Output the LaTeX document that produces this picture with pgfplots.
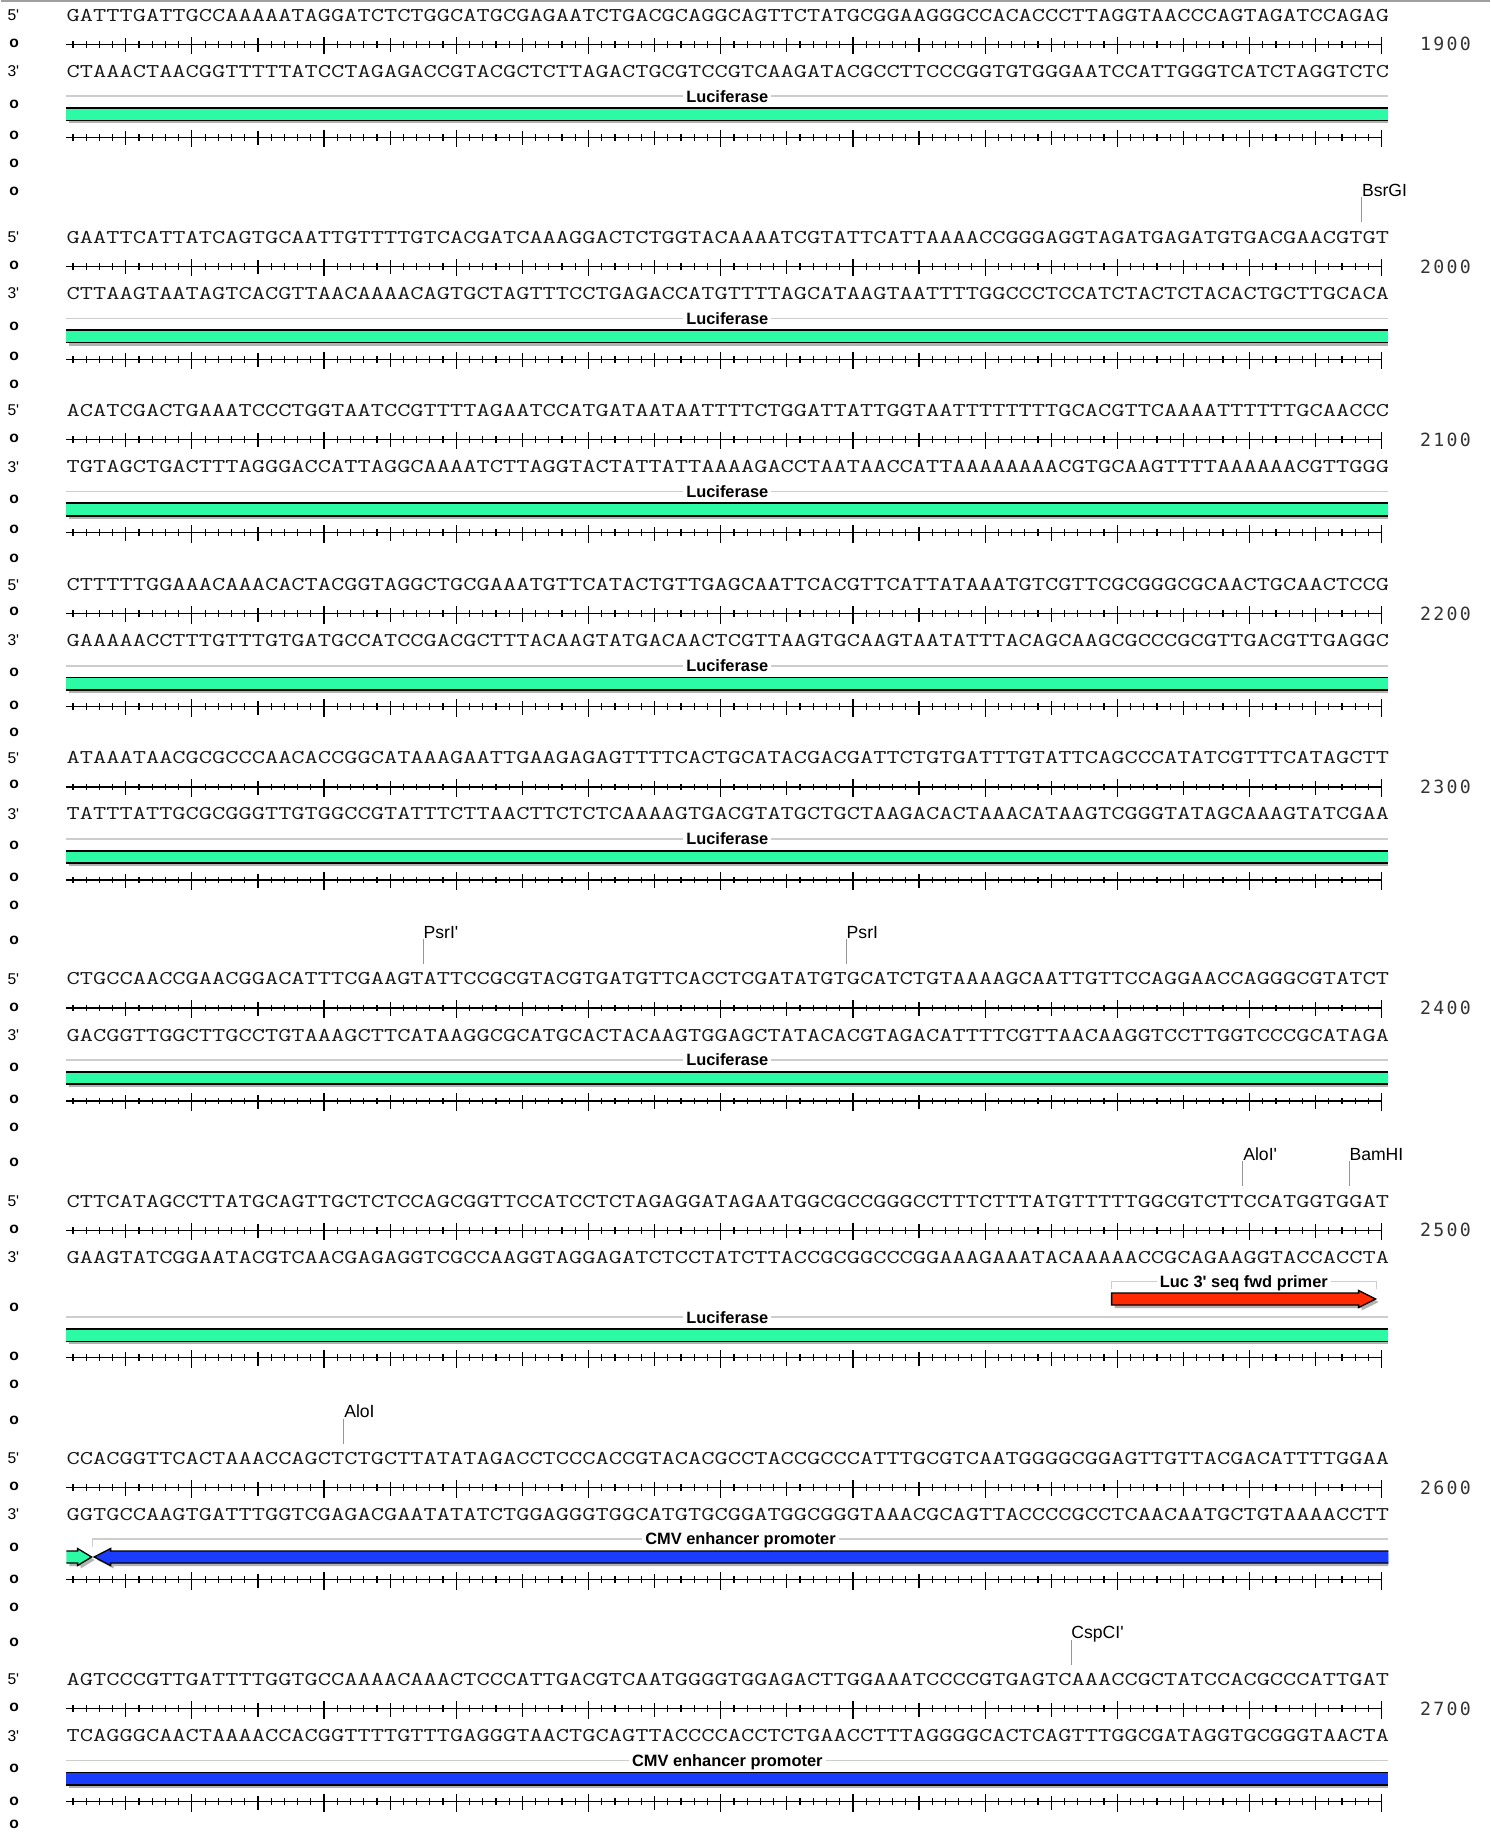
\documentclass[border=0pt]{standalone}
\usepackage{pgfplots}
\pgfplotsset{compat=1.18}
\usepackage{pgfplotstable}
\usepackage{graphicx}
\usepackage{fontspec}
\setmainfont{Liberation Sans}[Ligatures=TeXOff]
\newfontfamily\numf[LetterSpace=13]{DejaVu Sans Mono}

\definecolor{lucgreen}{RGB}{44,250,164}
\definecolor{cmvblue}{RGB}{26,60,255}
\definecolor{primred}{RGB}{255,42,0}
\definecolor{shade}{RGB}{178,178,178}
\definecolor{labline}{RGB}{205,205,205}
\definecolor{cutline}{RGB}{150,150,150}

\newcommand\seqfont{\ttfamily\fontsize{12.86}{14}\selectfont\color{black!90}}
\newcommand\labfont{\fontsize{8.8}{10}\selectfont}
\newcommand\featfont{\bfseries\fontsize{8.2}{10}\selectfont}
\newcommand\sidefont{\fontsize{7.8}{9}\selectfont}
\newcommand\posfont{\numf\fontsize{9.1}{10}\selectfont\color{black!80}}

% ruler ticks, by base number within a row of 100 (second column unused)
\pgfplotstableread[row sep=\\]{b z\\1 0\\2 0\\3 0\\4 0\\6 0\\7 0\\8 0\\9 0\\11 0\\12 0\\13 0\\14 0\\16 0\\17 0\\18 0\\19 0\\21 0\\22 0\\23 0\\24 0\\26 0\\27 0\\28 0\\29 0\\31 0\\32 0\\33 0\\34 0\\36 0\\37 0\\38 0\\39 0\\41 0\\42 0\\43 0\\44 0\\46 0\\47 0\\48 0\\49 0\\51 0\\52 0\\53 0\\54 0\\56 0\\57 0\\58 0\\59 0\\61 0\\62 0\\63 0\\64 0\\66 0\\67 0\\68 0\\69 0\\71 0\\72 0\\73 0\\74 0\\76 0\\77 0\\78 0\\79 0\\81 0\\82 0\\83 0\\84 0\\86 0\\87 0\\88 0\\89 0\\91 0\\92 0\\93 0\\94 0\\96 0\\97 0\\98 0\\99 0\\}\minorT
\pgfplotstableread[row sep=\\]{b z\\5 0\\15 0\\25 0\\35 0\\45 0\\55 0\\65 0\\75 0\\85 0\\95 0\\}\fiveT
\pgfplotstableread[row sep=\\]{b z\\10 0\\20 0\\30 0\\40 0\\50 0\\60 0\\70 0\\80 0\\90 0\\100 0\\}\tenT

% feature bar outline (pixel offsets from the bar centre)
\pgfplotstableread{
x dy
65.7 -6.25
1387.7 -6.25
1387.7 6.25
65.7 6.25
}\barT
\pgfplotstableread{
x dy
68.7 -3.25
1387.7 -3.25
1387.7 9.25
68.7 9.25
}\shadowT
\pgfplotstableread{
x dy
65.7 0
1387.7 0
}\edgeT

\newcommand\featbar[2]{%
  \addplot[fill=shade, draw=none] table[x=x, y expr=#1+\thisrow{dy}] \shadowT;
  \addplot[fill=#2, draw=none] table[x=x, y expr=#1+\thisrow{dy}] \barT;
  \addplot[black, line width=0.85pt] table[x=x, y expr=#1-6.25] \edgeT;
  \addplot[black, line width=0.85pt] table[x=x, y expr=#1+6.25] \edgeT;
}
\newcommand\ruler[1]{%
  \addplot[black, line width=0.6pt] coordinates {(65.7,#1) (1381.1,#1)};
  \addplot[black, only marks, mark=|, mark size=1.7pt, mark options={line width=0.6pt}]
    table[x expr=65.7+13.22*(\thisrow{b}-0.5), y expr=#1] \minorT;
  \addplot[black, only marks, mark=|, mark size=3.5pt, mark options={line width=0.6pt}]
    table[x expr=65.7+13.22*(\thisrow{b}-0.5), y expr=#1+1] \fiveT;
  \addplot[black, only marks, mark=|, mark size=4.4pt, mark options={line width=0.6pt}]
    table[x expr=65.7+13.22*(\thisrow{b}-0.5), y expr=#1+1.2] \tenT;
}
% each strand is 100 bases, stretched to exactly 100 base cells (661.1pt)
\newcommand\seqrow[3]{%
  \node[anchor=west, inner sep=0pt] at (axis cs:65.7,#1) {\resizebox{661.1pt}{6.1pt}{\seqfont #2}};
  \node[anchor=west, inner sep=0pt] at (axis cs:65.7,#1+56.1) {\resizebox{661.1pt}{6.1pt}{\seqfont #3}};
}
\newcommand\cut[3]{% x, sequence y, name
  \addplot[cutline, line width=0.5pt] coordinates {(#1,#2-40) (#1,#2-15)};
  \node[anchor=base west, inner sep=0pt] at (axis cs:#1,#2-41) {\labfont #3};
}
\newcommand\featlabel[3]{% x centre, y, text
  \node[anchor=base, fill=white, inner xsep=1.5pt, inner ysep=0pt] at (axis cs:#1,#2+5.9) {\featfont #3};
}

\begin{document}
\begin{tikzpicture}
\begin{axis}[scale only axis, width=744.5pt, height=917pt,
    xmin=0, xmax=1489, ymin=0, ymax=1834, y dir=reverse,
    hide axis, clip=false]

\addplot[draw=none] coordinates {(0,0) (1489,1834)};
\addplot[gray!75, line width=0.6pt] coordinates {(0,1) (1489,1)};

% left margin labels
\pgfplotsinvokeforeach{15.2,237.4,410.5,584.8,757.9,979.0,1201.2,1458.5,1679.6}{
  \node[anchor=west, inner sep=0pt] at (axis cs:6.5,#1) {\sidefont 5'};}
\pgfplotsinvokeforeach{71.3,293.6,466.7,639.8,814.0,1035.1,1257.3,1514.6,1735.7}{
  \node[anchor=west, inner sep=0pt] at (axis cs:6.5,#1) {\sidefont 3'};}
\pgfplotsinvokeforeach{43.3,104.1,135.7,163.7,191.8,265.5,326.3,356.7,384.8,438.6,499.4,529.8,557.9,611.7,672.5,705.3,732.2,784.8,845.6,877.2,905.3,940.4,1007.0,1067.8,1099.4,1127.5,1162.6,1229.2,1307.6,1356.7,1384.8,1419.9,1486.5,1547.3,1578.9,1607.0,1642.1,1707.6,1768.4,1801.2,1824.5}{
  \node[anchor=west, inner sep=0pt] at (axis cs:8.5,#1) {\sidefont\bfseries o};}

% rulers
\pgfplotsinvokeforeach{44.2,137.2,266.4,359.4,439.5,532.5,613.8,706.8,786.9,879.9,1008.0,1101.0,1230.2,1357.5,1487.5,1579.5,1708.6,1801.6}{\ruler{#1}}

% position numbers
\node[anchor=west, inner sep=0pt] at (axis cs:1419,44.2) {\posfont 1900};
\node[anchor=west, inner sep=0pt] at (axis cs:1419,266.4) {\posfont 2000};
\node[anchor=west, inner sep=0pt] at (axis cs:1419,439.5) {\posfont 2100};
\node[anchor=west, inner sep=0pt] at (axis cs:1419,613.8) {\posfont 2200};
\node[anchor=west, inner sep=0pt] at (axis cs:1419,786.9) {\posfont 2300};
\node[anchor=west, inner sep=0pt] at (axis cs:1419,1008.0) {\posfont 2400};
\node[anchor=west, inner sep=0pt] at (axis cs:1419,1230.2) {\posfont 2500};
\node[anchor=west, inner sep=0pt] at (axis cs:1419,1487.5) {\posfont 2600};
\node[anchor=west, inner sep=0pt] at (axis cs:1419,1708.6) {\posfont 2700};

% sequences (top strand 5'->3', bottom strand 3'->5')
\seqrow{15.2}{GATTTGATTGCCAAAAATAGGATCTCTGGCATGCGAGAATCTGACGCAGGCAGTTCTATGCGGAAGGGCCACACCCTTAGGTAACCCAGTAGATCCAGAG}{CTAAACTAACGGTTTTTATCCTAGAGACCGTACGCTCTTAGACTGCGTCCGTCAAGATACGCCTTCCCGGTGTGGGAATCCATTGGGTCATCTAGGTCTC}
\seqrow{237.4}{GAATTCATTATCAGTGCAATTGTTTTGTCACGATCAAAGGACTCTGGTACAAAATCGTATTCATTAAAACCGGGAGGTAGATGAGATGTGACGAACGTGT}{CTTAAGTAATAGTCACGTTAACAAAACAGTGCTAGTTTCCTGAGACCATGTTTTAGCATAAGTAATTTTGGCCCTCCATCTACTCTACACTGCTTGCACA}
\seqrow{410.5}{ACATCGACTGAAATCCCTGGTAATCCGTTTTAGAATCCATGATAATAATTTTCTGGATTATTGGTAATTTTTTTTGCACGTTCAAAATTTTTTGCAACCC}{TGTAGCTGACTTTAGGGACCATTAGGCAAAATCTTAGGTACTATTATTAAAAGACCTAATAACCATTAAAAAAAACGTGCAAGTTTTAAAAAACGTTGGG}
\seqrow{584.8}{CTTTTTGGAAACAAACACTACGGTAGGCTGCGAAATGTTCATACTGTTGAGCAATTCACGTTCATTATAAATGTCGTTCGCGGGCGCAACTGCAACTCCG}{GAAAAACCTTTGTTTGTGATGCCATCCGACGCTTTACAAGTATGACAACTCGTTAAGTGCAAGTAATATTTACAGCAAGCGCCCGCGTTGACGTTGAGGC}
\seqrow{757.9}{ATAAATAACGCGCCCAACACCGGCATAAAGAATTGAAGAGAGTTTTCACTGCATACGACGATTCTGTGATTTGTATTCAGCCCATATCGTTTCATAGCTT}{TATTTATTGCGCGGGTTGTGGCCGTATTTCTTAACTTCTCTCAAAAGTGACGTATGCTGCTAAGACACTAAACATAAGTCGGGTATAGCAAAGTATCGAA}
\seqrow{979.0}{CTGCCAACCGAACGGACATTTCGAAGTATTCCGCGTACGTGATGTTCACCTCGATATGTGCATCTGTAAAAGCAATTGTTCCAGGAACCAGGGCGTATCT}{GACGGTTGGCTTGCCTGTAAAGCTTCATAAGGCGCATGCACTACAAGTGGAGCTATACACGTAGACATTTTCGTTAACAAGGTCCTTGGTCCCGCATAGA}
\seqrow{1201.2}{CTTCATAGCCTTATGCAGTTGCTCTCCAGCGGTTCCATCCTCTAGAGGATAGAATGGCGCCGGGCCTTTCTTTATGTTTTTGGCGTCTTCCATGGTGGAT}{GAAGTATCGGAATACGTCAACGAGAGGTCGCCAAGGTAGGAGATCTCCTATCTTACCGCGGCCCGGAAAGAAATACAAAAACCGCAGAAGGTACCACCTA}
\seqrow{1458.5}{CCACGGTTCACTAAACCAGCTCTGCTTATATAGACCTCCCACCGTACACGCCTACCGCCCATTTGCGTCAATGGGGCGGAGTTGTTACGACATTTTGGAA}{GGTGCCAAGTGATTTGGTCGAGACGAATATATCTGGAGGGTGGCATGTGCGGATGGCGGGTAAACGCAGTTACCCCGCCTCAACAATGCTGTAAAACCTT}
\seqrow{1679.6}{AGTCCCGTTGATTTTGGTGCCAAAACAAACTCCCATTGACGTCAATGGGGTGGAGACTTGGAAATCCCCGTGAGTCAAACCGCTATCCACGCCCATTGAT}{TCAGGGCAACTAAAACCACGGTTTTGTTTGAGGGTAACTGCAGTTACCCCACCTCTGAACCTTTAGGGGCACTCAGTTTGGCGATAGGTGCGGGTAACTA}

% restriction sites
\cut{1361.0}{237.4}{BsrGI}
\cut{422.6}{979.0}{PsrI'}
\cut{845.7}{979.0}{PsrI}
\cut{1242.3}{1201.2}{AloI'}
\cut{1348.5}{1201.2}{BamHI}
\cut{343.3}{1458.5}{AloI}
\cut{1070.4}{1679.6}{CspCI'}

% Luciferase feature rows
\pgfplotsinvokeforeach{96.2,318.4,491.5,665.8,838.9,1060.0,1317.2}{
  \addplot[labline, line width=0.75pt] coordinates {(65.7,#1) (1387.7,#1)};
  \featlabel{726.7}{#1}{Luciferase}}
\pgfplotsinvokeforeach{114.2,336.4,509.5,683.8,856.9,1078.0,1335.2}{\featbar{#1}{lucgreen}}

% Luc 3' seq fwd primer
\addplot[labline, line width=0.75pt] coordinates {(1110.7,1289) (1110.7,1281.5) (1375.7,1281.5) (1375.7,1289)};
\featlabel{1243.2}{1281.5}{Luc 3' seq fwd primer}
\addplot[fill=shade, draw=none] coordinates {(1114,1296) (1361,1296) (1361,1293.5) (1378,1302) (1361,1310.5) (1361,1308) (1114,1308)} -- cycle;
\addplot[fill=primred, draw=black, line width=0.65pt] coordinates {(1111,1293) (1358,1293) (1358,1290.5) (1375,1299) (1358,1307.5) (1358,1305) (1111,1305)} -- cycle;

% CMV enhancer promoter, row 2501-2600
\addplot[labline, line width=0.75pt] coordinates {(92.1,1547) (92.1,1538.8) (1387.7,1538.8)};
\featlabel{739.9}{1538.8}{CMV enhancer promoter}
\addplot[fill=shade, draw=none] coordinates {(68.7,1554) (80,1554) (80,1551.5) (94,1560) (80,1568.5) (80,1566) (68.7,1566)};
\addplot[fill=shade, draw=none] coordinates {(1387.7,1554) (113,1554) (113,1551.5) (96.5,1560) (113,1568.5) (113,1566) (1387.7,1566)};
\addplot[fill=lucgreen, draw=black, line width=0.65pt] coordinates {(65.7,1551) (77,1551) (77,1548.5) (91,1557) (77,1565.5) (77,1563) (65.7,1563)};
\addplot[fill=cmvblue, draw=black, line width=0.65pt] coordinates {(1387.7,1551) (110,1551) (110,1548.5) (93.5,1557) (110,1565.5) (110,1563) (1387.7,1563)};

% CMV enhancer promoter, row 2601-2700
\addplot[labline, line width=0.75pt] coordinates {(65.7,1760.6) (1387.7,1760.6)};
\featlabel{726.7}{1760.6}{CMV enhancer promoter}
\featbar{1778.6}{cmvblue}

\end{axis}
\end{tikzpicture}
\end{document}
